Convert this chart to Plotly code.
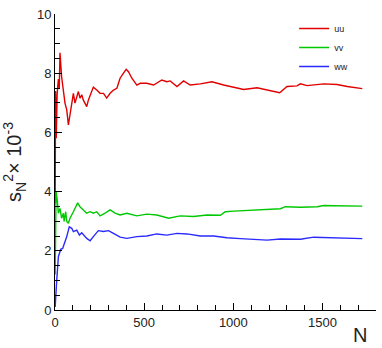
import plotly.graph_objects as go

# ---- data ----
uu_N = [1, 3, 7, 12, 19, 24, 28, 37, 56, 66, 75, 84, 94, 103, 112, 122, 131, 140, 150, 159,
        178, 187, 206, 215, 234, 253, 272, 290, 309, 328, 347, 365, 384, 399, 412, 431, 459,
        478, 515, 553, 599, 627, 646, 684, 721, 758, 815, 880, 946, 1002, 1058, 1133, 1189,
        1260, 1301, 1357, 1376, 1414, 1507, 1582, 1639, 1676, 1723]
uu_v = [3.6, 7.4, 5.8, 7.3, 7.8, 7.5, 8.69, 7.88, 6.99, 6.76, 6.25, 6.64, 7.09, 7.32, 6.99,
        7.21, 7.38, 7.16, 7.27, 7.09, 6.87, 7.09, 7.38, 7.53, 7.43, 7.32, 7.32, 7.16, 7.32,
        7.43, 7.49, 7.83, 8.0, 8.13, 8.05, 7.83, 7.60, 7.66, 7.66, 7.60, 7.77, 7.71, 7.74,
        7.55, 7.74, 7.60, 7.64, 7.71, 7.60, 7.52, 7.45, 7.51, 7.43, 7.34, 7.55, 7.57, 7.64,
        7.58, 7.64, 7.62, 7.55, 7.51, 7.48]

vv_N = [1, 4, 6, 13, 19, 28, 37, 47, 51, 60, 66, 75, 84, 103, 118, 127, 140, 159, 178, 197,
        215, 234, 253, 281, 309, 337, 365, 403, 459, 515, 571, 637, 702, 777, 852, 927, 955,
        1002, 1114, 1189, 1264, 1292, 1376, 1470, 1507, 1564, 1639, 1723]
vv_v = [1.2, 3.6, 4.0, 3.7, 3.27, 3.43, 3.1, 3.27, 2.99, 3.32, 2.99, 2.93, 3.1, 3.32, 3.54,
        3.62, 3.49, 3.38, 3.27, 3.32, 3.27, 3.32, 3.18, 3.27, 3.38, 3.27, 3.21, 3.27, 3.18,
        3.24, 3.21, 3.1, 3.18, 3.16, 3.21, 3.20, 3.32, 3.34, 3.38, 3.41, 3.42, 3.49, 3.47,
        3.49, 3.53, 3.52, 3.51, 3.51]

ww_N = [1, 5, 9, 19, 32, 43, 56, 66, 80, 94, 103, 122, 137, 150, 178, 197, 215, 243, 272,
        300, 328, 365, 403, 459, 515, 571, 627, 684, 740, 815, 890, 964, 1039, 1133, 1189,
        1264, 1376, 1451, 1564, 1639, 1723]
ww_v = [0.1, 0.6, 0.95, 1.8, 2.05, 2.08, 2.31, 2.48, 2.81, 2.76, 2.65, 2.7, 2.53, 2.61,
        2.42, 2.34, 2.48, 2.68, 2.65, 2.68, 2.59, 2.46, 2.42, 2.48, 2.5, 2.57, 2.53, 2.59,
        2.57, 2.5, 2.5, 2.44, 2.41, 2.39, 2.36, 2.4, 2.39, 2.46, 2.44, 2.42, 2.41]

series_names = ["uu", "vv", "ww"]
series_colors = ["#e00000", "#00c800", "#2a2aff"]

x_ticks = [0, 500, 1000, 1500]
y_ticks = [0, 2, 4, 6, 8, 10]

fig = go.Figure()
for name, xs, ys, col in zip(series_names, [uu_N, vv_N, ww_N], [uu_v, vv_v, ww_v], series_colors):
    fig.add_trace(go.Scatter(x=xs, y=ys, mode="lines", name=name,
                             line=dict(color=col, width=1.4)))

axis_common = dict(showgrid=False, zeroline=False, showline=True, linecolor="black",
                   linewidth=1, ticks="inside", tickcolor="black", tickwidth=1, ticklen=7,
                   tickfont=dict(family="Arial, Liberation Sans", size=13, color="#222"),
                   mirror=False)

fig.update_xaxes(range=[0, 1800], tickvals=x_ticks,
                 minor=dict(dtick=100, ticks="inside", ticklen=5, tickcolor="black"),
                 **axis_common)
fig.update_yaxes(range=[0, 10], tickvals=y_ticks,
                 minor=dict(dtick=0.5, ticks="inside", ticklen=5, tickcolor="black"),
                 title=dict(text="s<sub>N</sub><sup>2</sup>× 10<sup>-3</sup>",
                            font=dict(family="Arial, Liberation Sans", size=20, color="#222"),
                            standoff=10),
                 **axis_common)

fig.add_annotation(text="N", xref="paper", yref="paper", x=0.95, y=-0.083,
                   xanchor="center", yanchor="middle", showarrow=False,
                   font=dict(family="Arial, Liberation Sans", size=20, color="#222"))

fig.update_layout(
    width=382, height=348,
    margin=dict(l=55, r=6, t=14, b=38),
    plot_bgcolor="white", paper_bgcolor="white",
    legend=dict(x=0.745, y=1.0, xanchor="left", yanchor="top",
                font=dict(family="Arial, Liberation Sans", size=9, color="#222"),
                bgcolor="rgba(0,0,0,0)", tracegroupgap=0),
    showlegend=True,
)

fig.write_html("out.html")
